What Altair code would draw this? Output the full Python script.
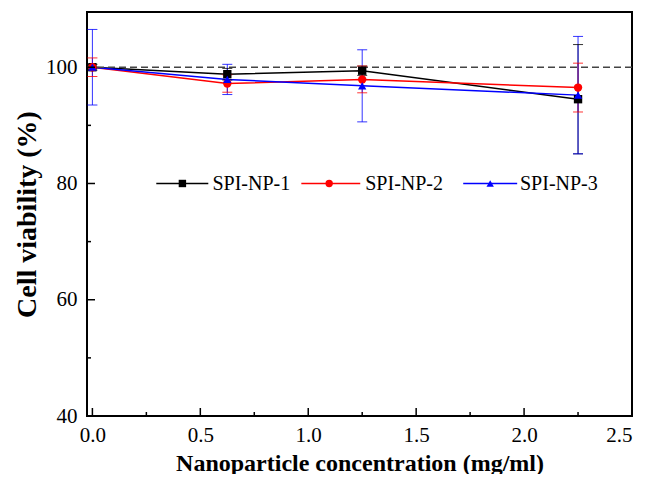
import altair as alt
import pandas as pd

# ---- data ----
conc = [0.0, 0.625, 1.25, 2.25]
series_names = ["SPI-NP-1", "SPI-NP-2", "SPI-NP-3"]
np1_mean = [100.0, 98.8, 99.4, 94.5]
np1_err = [0.5, 1.0, 0.8, 9.4]
np2_mean = [100.0, 97.2, 97.9, 96.5]
np2_err = [1.6, 1.5, 2.3, 4.2]
np3_mean = [100.0, 97.9, 96.8, 95.2]
np3_err = [6.5, 2.6, 6.2, 10.1]
x_major = [0.0, 0.5, 1.0, 1.5, 2.0, 2.5]
x_minor = [0.25, 0.75, 1.25, 1.75, 2.25]
y_major = [40, 60, 80, 100]
y_minor = [50, 70, 90]
reference_level = 100

colors = ["#000000", "#ff0000", "#0000ff"]
shapes = ["square", "circle", "triangle-up"]
FONT = "Liberation Serif"
W, H = 545, 404

rows = []
for name, means, errs in zip(series_names, [np1_mean, np2_mean, np3_mean], [np1_err, np2_err, np3_err]):
    for c, m, e in zip(conc, means, errs):
        rows.append({"series": name, "conc": c, "v": m, "lo": m - e, "hi": m + e})
df = pd.DataFrame(rows)

# legend placement (data coordinates, inside the plot)
leg = pd.DataFrame({
    "series": series_names,
    "x0": [0.296, 0.968, 1.718],
    "x1": [0.537, 1.241, 1.968],
    "xm": [0.417, 1.097, 1.843],
    "xt": [0.556, 1.264, 1.981],
    "y": [80, 80, 80],
})

xs = alt.Scale(domain=[-0.025, 2.5], nice=False, zero=False)
ys = alt.Scale(domain=[40, 109.5], nice=False, zero=False)

x_axis = alt.Axis(values=x_major, format=".1f", tickSize=0, domain=False, grid=False,
                  title="Nanoparticle concentration (mg/ml)", labelPadding=8, titlePadding=6,
                  titleFontSize=24)
y_axis = alt.Axis(values=y_major, format="d", tickSize=0, domain=False, grid=False,
                  title="Cell viability (%)", labelPadding=10, titlePadding=4,
                  titleFontSize=28)


def X(field):
    return alt.X(field, type="quantitative", scale=xs, axis=x_axis)


def Y(field):
    return alt.Y(field, type="quantitative", scale=ys, axis=y_axis)


color = alt.Color("series:N", scale=alt.Scale(domain=series_names, range=colors), legend=None)
shape = alt.Shape("series:N", scale=alt.Scale(domain=series_names, range=shapes), legend=None)

base = alt.Chart(df)

dashed = alt.Chart(pd.DataFrame({"r": [reference_level]})).mark_rule(
    color="#444444", strokeDash=[7, 4], strokeWidth=1.5
).encode(y=Y("r"))

lines = base.mark_line(strokeWidth=1.5).encode(
    x=X("conc"), y=Y("v"), color=color, detail="series:N",
)

err_rules = base.mark_rule(strokeWidth=1, opacity=0.8).encode(
    x=X("conc"), y=Y("lo"), y2="hi:Q", color=color,
)
err_lo = base.mark_tick(orient="horizontal", size=10, thickness=1, opacity=0.8).encode(
    x=X("conc"), y=Y("lo"), color=color,
)
err_hi = base.mark_tick(orient="horizontal", size=10, thickness=1, opacity=0.8).encode(
    x=X("conc"), y=Y("hi"), color=color,
)

points = base.mark_point(filled=True, size=70, opacity=1).encode(
    x=X("conc"), y=Y("v"), color=color, shape=shape,
)

# inward ticks
xt_major = alt.Chart(pd.DataFrame({"t": x_major})).mark_rule(color="black", strokeWidth=1.5).encode(
    x=X("t"), y=alt.value(H), y2=alt.value(H - 8))
xt_minor = alt.Chart(pd.DataFrame({"t": x_minor})).mark_rule(color="black", strokeWidth=1.5).encode(
    x=X("t"), y=alt.value(H), y2=alt.value(H - 4))
yt_major = alt.Chart(pd.DataFrame({"t": y_major})).mark_rule(color="black", strokeWidth=1.5).encode(
    y=Y("t"), x=alt.value(0), x2=alt.value(8))
yt_minor = alt.Chart(pd.DataFrame({"t": y_minor})).mark_rule(color="black", strokeWidth=1.5).encode(
    y=Y("t"), x=alt.value(0), x2=alt.value(4))

# legend
lbase = alt.Chart(leg)
leg_lines = lbase.mark_rule(strokeWidth=1.5).encode(
    x=X("x0"), x2="x1:Q", y=Y("y"), color=color)
leg_pts = lbase.mark_point(filled=True, size=55, opacity=1).encode(
    x=X("xm"), y=Y("y"), color=color, shape=shape)
leg_txt = lbase.mark_text(align="left", baseline="middle", font=FONT, fontSize=20, color="black", dy=1).encode(
    x=X("xt"), y=Y("y"), text="series:N")

chart = alt.layer(
    lines, dashed, err_rules, err_lo, err_hi, points,
    xt_major, xt_minor, yt_major, yt_minor,
    leg_lines, leg_pts, leg_txt,
).properties(
    width=W, height=H,
    autosize=alt.AutoSizeParams(type="none"),
    padding={"left": 79, "top": 4, "right": 5, "bottom": 58},
).configure_view(
    stroke="black", strokeWidth=2
).configure_axis(
    labelFont=FONT, labelFontSize=21, labelColor="black",
    titleFont=FONT, titleFontWeight="bold", titleColor="black",
)

chart.save("out.html", embed_options={"renderer": "svg", "actions": False})
